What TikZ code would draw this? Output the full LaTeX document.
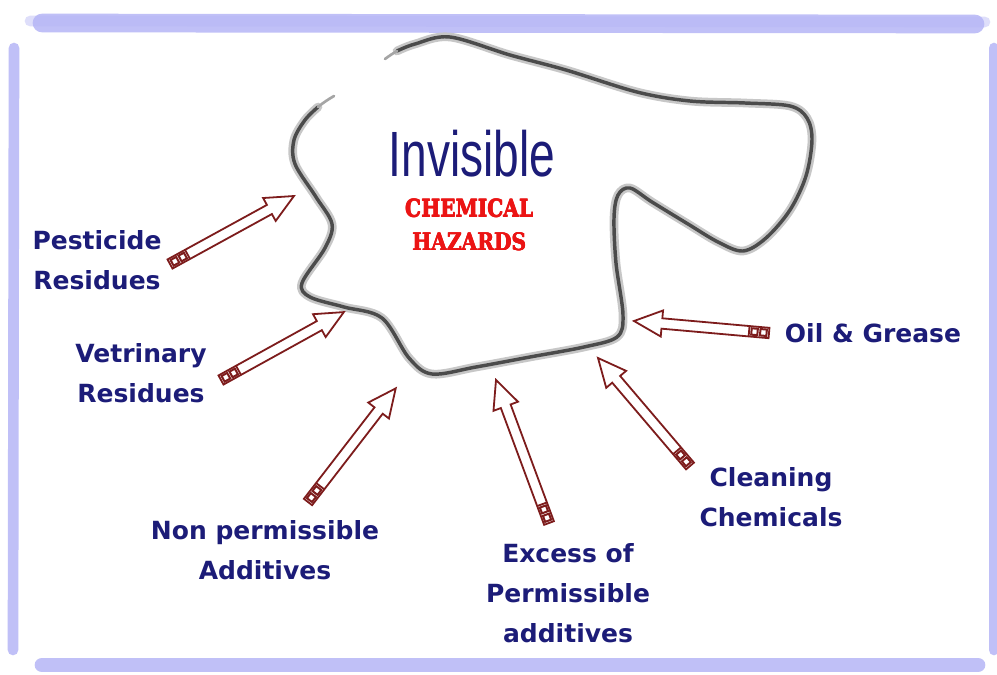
\documentclass[tikz,border=0pt]{standalone}
\usepackage{fontspec}
\usetikzlibrary{calc}
\newfontfamily\labelfont{DejaVu Sans}
\newfontfamily\titlefont{Liberation Sans}
\newfontfamily\hazfont{DejaVu Serif}
\newcommand{\heavytext}[1]{\makebox[0pt][l]{\hspace{0.45pt}#1}\makebox[0pt][l]{\raisebox{0.3pt}{#1}}\makebox[0pt][l]{\hspace{0.45pt}\raisebox{0.3pt}{#1}}#1}
\definecolor{navy}{RGB}{28,28,120}
\definecolor{arrowred}{RGB}{125,28,28}
\definecolor{hazred}{RGB}{235,20,20}
\definecolor{framecol}{RGB}{182,182,246}
\definecolor{blobgray}{RGB}{75,75,75}
\tikzset{
  hazlabel/.style={font=\labelfont\bfseries\fontsize{18.75pt}{30pt}\selectfont, text=navy, align=center, inner sep=0pt},
  arrowbody/.style={draw=arrowred, fill=white, line width=1.35pt, line join=miter},
  arrowcap/.style={draw=arrowred, line width=1.35pt},
  framestroke/.style={draw=framecol, line cap=round, opacity=0.85},
  blobhalo/.style={draw=black!22, line width=6.5pt, line join=round, line cap=round},
  blobline/.style={draw=blobgray, line width=2.6pt, line join=round, line cap=round},
  blobfade/.style={draw=blobgray!50, line width=2pt, line cap=round},
}
\newcommand{\hollowarrow}[2]{%
  \path let \p1=(#1), \p2=(#2) in \pgfextra{%
    \pgfmathsetmacro\arrang{atan2(\y2-\y1,\x2-\x1)}%
    \pgfmathsetmacro\arrlen{veclen(\x2-\x1,\y2-\y1)}%
    \xdef\ArrAng{\arrang}\xdef\ArrLen{\arrlen}};
  \begin{scope}[shift={(#1)}, rotate=\ArrAng]
    \path[arrowbody] (0pt,3.9pt) -- ({\ArrLen pt-21pt},3.9pt) -- ({\ArrLen pt-21pt},9.8pt)
      -- (\ArrLen pt,0pt) -- ({\ArrLen pt-21pt},-9.8pt) -- ({\ArrLen pt-21pt},-3.9pt)
      -- (0pt,-3.9pt) -- cycle;
    \draw[arrowcap] (15pt,3.9pt) -- (15pt,-3.9pt);
    \draw[arrowcap, line width=1.5pt] (1.8pt,-2.4pt) rectangle (6.6pt,2.4pt);
    \draw[arrowcap, line width=1.5pt] (8.6pt,-2.4pt) rectangle (13.2pt,2.4pt);
  \end{scope}}
\begin{document}
\begin{tikzpicture}[x=0.75pt,y=-0.75pt]
\useasboundingbox (0,0) rectangle (997,675);
\fill[white] (0,0) rectangle (997,675);
% frame brush strokes
\draw[framestroke, line width=14pt] (42,23) -- (975,24);
\draw[framestroke, line width=8pt, opacity=0.45] (30,21) -- (985,22);
\draw[framestroke, line width=8pt] (14,48) -- (13,650);
\draw[framestroke, line width=8pt] (994,48) -- (994,650);
\draw[framestroke, line width=11pt] (42,665) -- (978,665);
% blob (open at the upper left, as in the reference)
\def\blobpts{(397,51) (415,44) (450,37) (510,55) (566,70) (637,92) (690,101) (745,103) (790,106) (807,118) (812,140) (806,176) (790,210) (766,238) (743,251) (718,242) (688,224) (652,202) (630,188) (618,195) (614,218) (616,263) (623,315) (617,337) (584,347) (530,357) (476,367) (432,374) (409,358) (382,318) (344,307) (310,297) (302,283) (325,248) (332,224) (316,197) (295,164) (294,140) (305,120) (318,107)}
\draw[blobhalo] plot[smooth, tension=0.55] coordinates {\blobpts};
\draw[blobline] plot[smooth, tension=0.55] coordinates {\blobpts};
\draw[blobfade] (318,107) .. controls (324,102) and (329,99) .. (334,96);
\draw[blobfade] (397,51) .. controls (392,54) and (389,56) .. (385,59);
% title
\node[font=\titlefont\fontsize{48pt}{50pt}\selectfont, text=navy, anchor=base, inner sep=0pt] (title) at (472,176) {\scalebox{0.72}[1]{Invisible}};
\node[font=\hazfont\bfseries\fontsize{18pt}{25pt}\selectfont, text=hazred, align=center, inner sep=0pt] (haz) at (469,225) {\scalebox{0.84}[1]{\heavytext{CHEMICAL}}\\\scalebox{0.84}[1]{\heavytext{HAZARDS}}};
% labels
\node[hazlabel] (pest) at (97,260) {Pesticide\\Residues};
\node[hazlabel] (vet) at (141,373) {Vetrinary\\Residues};
\node[hazlabel] (nonp) at (265,550) {Non permissible\\Additives};
\node[hazlabel] (exc) at (568,593) {Excess of\\Permissible\\additives};
\node[hazlabel] (clean) at (771,497) {Cleaning\\Chemicals};
\node[hazlabel] (oil) at (873,333) {Oil \& Grease};
% arrow ends
\coordinate (t1) at (170,264); \coordinate (h1) at (294,196);
\coordinate (t2) at (221,380); \coordinate (h2) at (344,312);
\coordinate (t3) at (308,502); \coordinate (h3) at (396,388);
\coordinate (t4) at (549,523); \coordinate (h4) at (496,380);
\coordinate (t5) at (690,466); \coordinate (h5) at (598,358);
\coordinate (t6) at (769,333); \coordinate (h6) at (634,321);
\hollowarrow{t1}{h1}
\hollowarrow{t2}{h2}
\hollowarrow{t3}{h3}
\hollowarrow{t4}{h4}
\hollowarrow{t5}{h5}
\hollowarrow{t6}{h6}
\end{tikzpicture}
\end{document}
